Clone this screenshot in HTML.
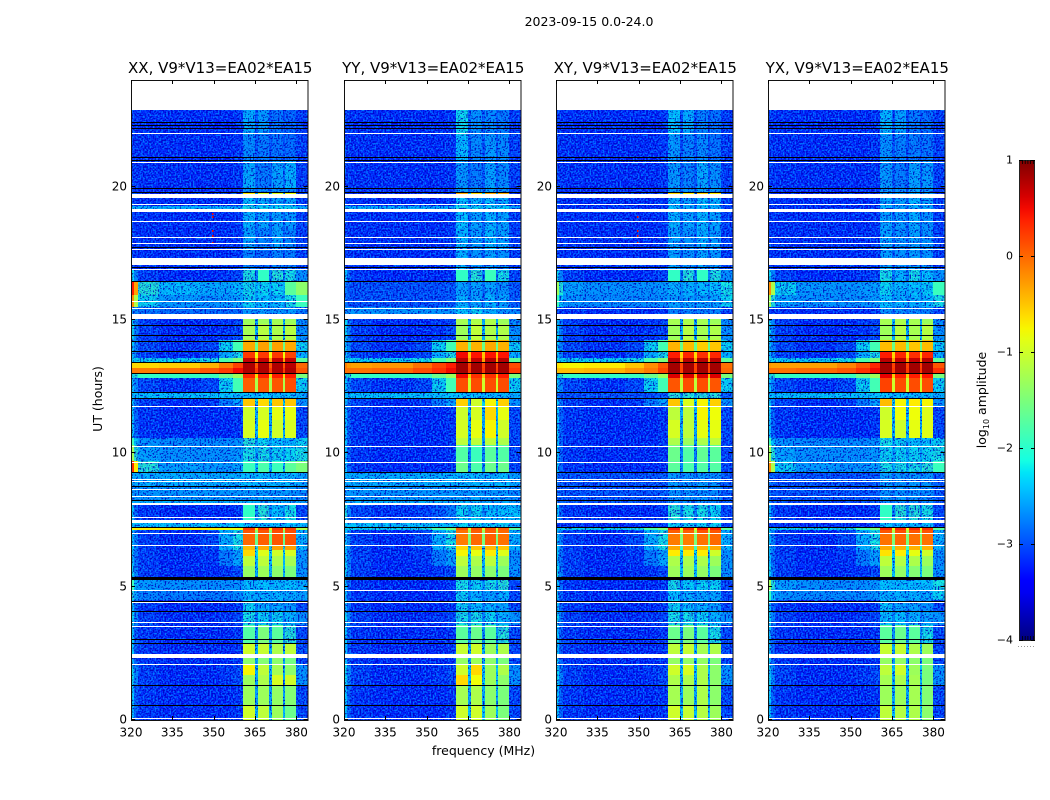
<!DOCTYPE html>
<html>
<head>
<meta charset="utf-8">
<title>2023-09-15 0.0-24.0</title>
<style>
html,body{margin:0;padding:0;background:#fff;}
svg{display:block;}
text{font-family:"DejaVu Sans","Liberation Sans",sans-serif;fill:#000;}
</style>
</head>
<body>
<svg id="figure" xmlns="http://www.w3.org/2000/svg" width="1050" height="800" viewBox="0 0 1050 800">
  <defs>
    <filter id="speckle-light" filterUnits="userSpaceOnUse" x="0" y="0" width="1050" height="800" color-interpolation-filters="sRGB">
      <feTurbulence type="fractalNoise" baseFrequency="0.6" numOctaves="1" seed="4" result="n"/>
      <feColorMatrix in="n" type="matrix" values="0 0 0 0 0  0 0 0 0 0.55  0 0 0 0 1  6 0 0 0 -3" result="c"/>
      <feComposite in="c" in2="SourceAlpha" operator="in"/>
    </filter>
    <filter id="speckle-dark" filterUnits="userSpaceOnUse" x="0" y="0" width="1050" height="800" color-interpolation-filters="sRGB">
      <feTurbulence type="fractalNoise" baseFrequency="0.6" numOctaves="1" seed="4" result="n"/>
      <feColorMatrix in="n" type="matrix" values="0 0 0 0 0  0 0 0 0 0  0 0 0 0 0.75  -6 0 0 0 3" result="c"/>
      <feComposite in="c" in2="SourceAlpha" operator="in"/>
    </filter>
    <linearGradient id="colorbar-gradient" x1="0" y1="1" x2="0" y2="0"></linearGradient>
  </defs>
  <text x="589" y="26" font-size="12.5" text-anchor="middle">2023-09-15 0.0-24.0</text>
  <text x="483.5" y="755" font-size="12.5" text-anchor="middle">frequency (MHz)</text>
  <text transform="translate(102 399) rotate(-90)" font-size="12.5" text-anchor="middle">UT (hours)</text>
  <text transform="translate(986 400) rotate(-90)" font-size="12.5" text-anchor="middle">log<tspan font-size="8" dy="3">10</tspan><tspan dy="-3"> amplitude</tspan></text>
</svg>
<script>
// Frequency channel edges (MHz) and time band edges (UT hours)
const freqEdges = [320,321,322.5,330,345,352,357,360.5,364.8,365.9,370.2,371,375,375.7,380,384];
const bandEdges = [0,.5625,1.3125,1.6875,2.1,2.325,2.8875,3.5625,4.0875,4.5,4.875,5.25,5.775,6.15,6.375,6.5625,6.975,7.125,7.2375,7.3875,8.0625,8.25,8.775,9.3,9.7125,10.3125,10.575,11.25,11.775,12.075,12.3,12.825,13.0125,13.2,13.425,13.575,13.8375,14.25,14.85,15.225,15.4875,15.9375,16.4625,16.9125,17.625,18.45,19.05,19.1625,19.275,19.575,19.725,19.8,19.95,21,21.9375,22.875];

// Out-of-block log10 amplitude shapes: seven channels below 360.5 MHz, then the channel above 380 MHz
const qEdge = [-2.3,-2.9,-3.15,-3.22,-3.22,-3.22,-3.15,-3.05];
const qPlain = [-3.1,-3.15,-3.18,-3.2,-3.2,-3.2,-3.15,-3.1];
const qHint = [-2.2,-2.7,-3.1,-3.22,-3.22,-3.15,-3.05,-2.6];
const rampWeak = [-2.3,-2.8,-3.1,-3.22,-3.15,-2.75,-2.5,-2.6];
const rampMid = [-2.3,-2.7,-3.1,-3.22,-3.05,-2.4,-2.1,-2.4];
const rampStrong = [-2.3,-2.7,-3.05,-3.18,-3.05,-2.2,-1.85,-2.2];
const lineBelow = [-2.1,-2.0,-1.95,-1.95,-1.9,-1.6,-1.3,-1.5];
const lineAbove = [-2.2,-2.2,-2.2,-2.2,-2.1,-1.8,-1.5,-1.7];
const cyanStrip = [-2.3,-2.3,-2.3,-2.3,-2.3,-2.3,-2.3,-2.4];
const cyanSoft = [-2.4,-2.42,-2.42,-2.42,-2.42,-2.42,-2.42,-2.5];
const cyanDeep = [-2.55,-2.58,-2.58,-2.58,-2.58,-2.58,-2.58,-2.65];
const blueBand = [-2.8,-2.95,-3.0,-3.0,-3.0,-3.0,-2.95,-2.95];
const blueDark = [-2.6,-2.7,-2.8,-2.85,-2.85,-2.85,-2.85,-2.75];
const liftLow = [-1.9,-2.3,-2.6,-2.65,-2.65,-2.65,-2.6,-2.2];
const liftMid = [-1.3,-2.0,-2.5,-2.6,-2.6,-2.6,-2.55,-2.1];
const liftHi = [-0.2,-1.2,-2.2,-2.55,-2.6,-2.55,-2.5,-1.9];
const liftHot = [0.3,-0.7,-2.0,-2.5,-2.55,-2.55,-2.45,-1.5];
const liftHot2 = [0.4,-0.3,-2.0,-2.35,-2.45,-2.45,-2.35,-1.4];
const activeA = [-2.0,-2.5,-2.7,-2.75,-2.75,-2.75,-2.65,-2.5];
const activeB = [-1.9,-2.3,-2.55,-2.6,-2.6,-2.6,-2.55,-2.4];
const hotRow = [-0.8,-0.7,-0.7,-0.7,-0.7,-0.8,-0.8,-1.2];
const warmRight = [-2.0,-2.7,-3.05,-3.15,-3.1,-2.95,-2.75,-2.3];
const coreXXlow = [-0.1,-0.1,-0.1,-0.05,0.1,0.25,0.5,0.1];
const coreXXtop = [-0.6,-0.6,-0.6,-0.55,-0.4,-0.1,0.2,0.0];
const coreYYlow = [-0.05,-0.05,-0.05,0,0.15,0.3,0.5,0.25];
const coreYYtop = [-0.1,-0.25,-0.3,-0.25,-0.05,0.2,0.4,0.15];
const coreXYlow = [-0.45,-0.45,-0.45,-0.4,-0.25,-0.1,0.2,0.0];
const coreXYtop = [-0.65,-0.7,-0.75,-0.7,-0.5,-0.2,0.1,-0.05];
const coreYXlow = [-0.05,-0.05,-0.05,0,0.1,0.3,0.5,0.3];
const coreYXtop = [-0.25,-0.3,-0.3,-0.3,-0.15,0.1,0.35,0.1];

// One row per time band: [out-of-block shape, block A, block B, block C, block D, between-block gaps]
const rowsXX = [
[qEdge,-1.0,-1.1,-1.3,-1.6,-2.4],[qEdge,-1.3,-1.3,-1.35,-1.45,-2.5],[qHint,-1.3,-1.2,-.95,-1.0,-2.5],[qHint,-.75,-1.1,-1.25,-1.4,-2.4],[qEdge,-1.4,-1.45,-1.4,-1.55,-2.5],
[qEdge,-1.0,-1.05,-1.2,-1.1,-2.4],[qEdge,-1.75,-1.5,-1.7,-2.0,-2.6],[qHint,-2.1,-2.2,-2.2,-2.4,-2.7],[qEdge,-2.2,-2.4,-2.45,-2.55,-2.7],[activeA,-2.35,-2.4,-2.4,-2.45,-2.5],
[activeB,-2.3,-2.3,-2.35,-2.3,-2.4],[qHint,-1.35,-1.3,-1.4,-1.5,-2.4],[rampWeak,-1.1,-1.1,-1.2,-1.25,-2.3],[rampWeak,-.6,-.9,-1.0,-.95,-2.2],[rampMid,-.45,-.35,-.3,-.3,-2.0],
[rampMid,0,.05,.1,.1,-1.6],[rampMid,.1,.1,.15,.15,-1.4],[hotRow,.25,.25,.25,.2,-.7],[cyanStrip,-2.3,-2.3,-2.3,-2.3,-2.4],[qEdge,-1.95,-2.0,-2.3,-2.1,-2.6],
[cyanSoft,-2.4,-2.4,-2.4,-2.45,-2.5],[cyanDeep,-2.55,-2.5,-2.55,-2.55,-2.6],[cyanSoft,-2.35,-2.35,-2.4,-2.35,-2.4],[liftHot,-1.9,-1.8,-1.9,-1.7,-2.3],[liftMid,-2.1,-2.1,-2.2,-2.2,-2.5],
[liftLow,-2.0,-2.2,-2.3,-2.4,-2.5],[qEdge,-.95,-.85,-1.0,-.95,-2.4],[qEdge,-1.0,-.95,-.85,-.85,-2.4],[rampWeak,-.5,-.6,-.5,-.5,-2.2],[cyanStrip,-2.3,-2.3,-2.3,-2.3,-2.4],
[rampStrong,.05,.1,.1,.15,-1.2],[lineBelow,.35,.4,.4,.4,-.6],[coreXXlow,.8,.8,.8,.8,.25],[coreXXtop,.8,.8,.8,.75,.1],[lineAbove,.7,.7,.7,.7,-.3],
[rampMid,.25,.25,.25,.2,-.8],[rampStrong,-.35,-.3,-.3,-.35,-1.6],[qHint,-1.25,-1.15,-1.2,-1.15,-2.4],[qHint,-1.3,-1.3,-1.25,-1.3,-2.4],[blueDark,-2.55,-2.55,-2.55,-2.55,-2.7],
[liftHi,-2.2,-2.3,-2.3,-2.1,-2.5],[liftHot2,-2.15,-2.2,-2.2,-1.7,-2.4],[qHint,-2.05,-1.95,-2.0,-2.1,-2.7],[qPlain,-2.7,-2.85,-2.7,-2.75,-3.0],[qPlain,-2.5,-2.7,-2.5,-2.7,-2.9],
[qPlain,-2.4,-2.5,-2.5,-2.55,-2.9],[qPlain,-2.4,-2.5,-2.5,-2.55,-2.9],[cyanSoft,-2.1,-2.2,-2.2,-2.2,-2.4],[qPlain,-2.3,-2.4,-2.45,-2.5,-2.8],[qPlain,-2.6,-2.6,-2.6,-2.7,-2.9],
[qPlain,-.7,-.9,-.9,-.8,-2.5],[qPlain,-2.6,-2.7,-2.6,-2.7,-2.9],[qPlain,-2.45,-2.75,-2.5,-2.4,-2.85],[qPlain,-2.65,-2.75,-2.8,-2.85,-3.0],[qPlain,-2.45,-2.55,-2.8,-2.9,-3.0]
];
const rowsYY = [
[qEdge,-1.0,-1.0,-1.3,-1.5,-2.3],[qEdge,-1.25,-1.2,-1.4,-1.5,-2.4],[qHint,-.6,-.8,-1.3,-1.4,-2.3],[qHint,-1.0,-.6,-1.3,-1.2,-2.3],[qEdge,-1.35,-1.3,-1.4,-1.5,-2.5],
[qEdge,-1.05,-1.0,-1.3,-1.2,-2.4],[qEdge,-1.7,-1.6,-1.7,-2.0,-2.6],[qHint,-2.1,-2.1,-2.2,-2.4,-2.7],[qEdge,-2.2,-2.3,-2.4,-2.5,-2.7],[qEdge,-2.2,-2.4,-2.5,-2.4,-2.7],
[qEdge,-2.1,-2.2,-2.1,-2.0,-2.6],[qHint,-1.3,-1.35,-1.4,-1.5,-2.3],[rampWeak,-1.1,-1.2,-1.1,-1.3,-2.3],[rampWeak,-.75,-.85,-.7,-.9,-2.2],[rampMid,-.6,-.5,-.45,-.5,-2.0],
[rampMid,-.1,0,.05,-.05,-1.5],[rampMid,-.05,.05,.05,0,-1.3],[lineAbove,.1,.1,.1,.05,-.9],[cyanStrip,-2.2,-2.2,-2.2,-2.2,-2.4],[warmRight,-2.2,-2.2,-2.3,-2.3,-2.6],
[cyanSoft,-2.4,-2.4,-2.4,-2.45,-2.5],[cyanDeep,-2.55,-2.5,-2.55,-2.55,-2.6],[cyanSoft,-2.35,-2.35,-2.4,-2.35,-2.4],[qEdge,-1.6,-1.8,-1.6,-1.6,-2.7],[qEdge,-1.75,-1.9,-1.7,-1.75,-2.7],
[qEdge,-1.1,-1.1,-1.1,-1.2,-2.5],[qEdge,-.95,-.85,-.75,-1.0,-2.4],[qEdge,-1.0,-.95,-.6,-.85,-2.4],[rampWeak,-.55,-1.0,-.75,-.55,-2.2],[cyanStrip,-2.3,-2.3,-2.3,-2.3,-2.4],
[rampStrong,.15,.15,.15,.15,-1.0],[lineBelow,.5,.3,.3,.4,-.5],[coreYYlow,.85,.85,.85,.85,.25],[coreYYtop,.85,.85,.85,.85,.2],[lineAbove,.75,.7,.75,.75,-.3],
[rampMid,.5,.45,.45,.45,-.5],[rampStrong,-.4,-.4,-.35,-.4,-1.6],[qHint,-1.3,-1.1,-1.2,-1.2,-2.4],[qHint,-1.25,-1.2,-1.2,-1.3,-2.4],[cyanDeep,-2.3,-2.2,-2.4,-2.6,-2.6],
[blueBand,-2.4,-2.5,-2.4,-2.5,-2.8],[blueBand,-2.5,-2.5,-2.5,-2.6,-2.8],[qEdge,-1.95,-2.0,-1.9,-2.1,-2.7],[qPlain,-2.4,-2.6,-2.5,-2.6,-2.9],[qPlain,-2.4,-2.55,-2.35,-2.5,-2.85],
[qPlain,-2.3,-2.5,-2.4,-2.5,-2.85],[qPlain,-2.3,-2.5,-2.4,-2.5,-2.85],[cyanSoft,-2.1,-2.2,-2.2,-2.25,-2.4],[qPlain,-2.3,-2.4,-2.35,-2.45,-2.85],[qPlain,-2.5,-2.5,-2.5,-2.6,-2.9],
[qPlain,-.35,-.6,-.35,-.35,-2.3],[qPlain,-2.5,-2.6,-2.5,-2.6,-2.9],[qPlain,-2.55,-2.75,-2.5,-2.65,-2.95],[qPlain,-2.35,-2.65,-2.55,-2.65,-2.95],[qPlain,-2.15,-2.6,-2.65,-2.75,-2.95]
];
const rowsXY = [
[qEdge,-1.0,-1.05,-1.15,-1.3,-2.3],[qEdge,-1.25,-1.3,-1.2,-1.4,-2.4],[qHint,-1.2,-1.2,-1.2,-1.4,-2.4],[qHint,-1.0,-.95,-1.2,-1.4,-2.3],[qEdge,-1.35,-1.35,-1.35,-1.5,-2.5],
[qEdge,-1.1,-1.05,-1.25,-1.2,-2.4],[qEdge,-1.6,-1.5,-1.7,-2.1,-2.6],[qHint,-2.1,-2.1,-2.2,-2.4,-2.7],[qEdge,-2.2,-2.3,-2.4,-2.5,-2.7],[qEdge,-2.3,-2.4,-2.5,-2.45,-2.7],
[qEdge,-2.1,-2.25,-2.2,-2.2,-2.6],[qHint,-1.3,-1.3,-1.35,-1.5,-2.3],[rampWeak,-1.2,-1.2,-1.2,-1.3,-2.3],[rampWeak,-.7,-.7,-.7,-1.0,-2.2],[rampMid,-.35,-.35,-.4,-.35,-1.9],
[rampMid,-.1,-.1,-.05,0,-1.5],[rampMid,.05,.05,.1,.1,-1.2],[lineAbove,.4,.3,.4,.35,-.8],[qPlain,-2.2,-2.2,-2.2,-2.2,-2.6],[qEdge,-2.0,-2.1,-2.1,-2.2,-2.7],
[blueBand,-2.6,-2.6,-2.6,-2.65,-2.8],[blueBand,-2.6,-2.6,-2.6,-2.65,-2.8],[blueBand,-2.55,-2.6,-2.55,-2.6,-2.8],[qEdge,-1.7,-1.8,-1.75,-1.75,-2.7],[qEdge,-1.6,-1.75,-1.65,-1.7,-2.7],
[qEdge,-1.2,-1.3,-1.2,-1.1,-2.5],[qEdge,-.95,-1.1,-.85,-.85,-2.4],[qEdge,-1.1,-1.1,-.75,-.8,-2.4],[rampWeak,-.5,-.9,-.75,-.55,-2.2],[blueBand,-2.0,-2.0,-2.0,-2.0,-2.5],
[rampStrong,.1,.15,.15,.1,-1.1],[lineBelow,.6,.6,.6,.6,-.4],[coreXYlow,.85,.85,.85,.85,.2],[coreXYtop,.85,.85,.85,.85,.2],[lineAbove,.75,.75,.75,.75,-.3],
[rampMid,.4,.35,.3,.35,-.6],[rampStrong,-.4,-.45,-.55,-.5,-1.6],[qHint,-1.3,-1.15,-1.25,-1.2,-2.4],[qHint,-1.25,-1.2,-1.25,-1.3,-2.4],[qPlain,-2.7,-2.7,-2.7,-2.7,-2.9],
[liftLow,-2.5,-2.5,-2.5,-2.5,-2.7],[liftMid,-2.4,-2.4,-2.35,-2.3,-2.6],[qHint,-1.95,-2.0,-1.95,-2.05,-2.7],[qPlain,-2.5,-2.6,-2.5,-2.55,-2.9],[qPlain,-2.5,-2.6,-2.45,-2.55,-2.85],
[qPlain,-2.4,-2.5,-2.35,-2.5,-2.85],[qPlain,-2.4,-2.5,-2.35,-2.5,-2.85],[qPlain,-2.3,-2.45,-2.35,-2.45,-2.85],[qPlain,-2.4,-2.5,-2.3,-2.4,-2.85],[qPlain,-2.5,-2.55,-2.5,-2.6,-2.9],
[qPlain,-.6,-.7,-.55,-.7,-2.4],[qPlain,-2.5,-2.6,-2.45,-2.6,-2.9],[qPlain,-2.55,-2.7,-2.45,-2.6,-2.95],[qPlain,-2.55,-2.7,-2.65,-2.8,-3.0],[qPlain,-2.3,-2.45,-2.7,-2.8,-3.0]
];
const rowsYX = [
[qEdge,-1.1,-1.15,-1.2,-1.4,-2.3],[qEdge,-1.3,-1.3,-1.25,-1.45,-2.4],[qHint,-1.25,-1.2,-1.25,-1.5,-2.4],[qHint,-1.1,-1.0,-1.3,-1.5,-2.3],[qEdge,-1.35,-1.35,-1.4,-1.5,-2.5],
[qEdge,-1.05,-1.05,-1.2,-1.3,-2.4],[qEdge,-1.7,-1.6,-1.7,-2.1,-2.6],[qHint,-2.3,-2.3,-2.4,-2.5,-2.7],[qEdge,-2.25,-2.45,-2.5,-2.6,-2.7],[liftLow,-2.4,-2.4,-2.4,-2.45,-2.5],
[liftMid,-2.3,-2.3,-2.3,-2.3,-2.4],[qHint,-1.3,-1.35,-1.45,-1.5,-2.3],[rampWeak,-1.1,-1.15,-1.2,-1.3,-2.3],[rampWeak,-.65,-.7,-.85,-1.0,-2.2],[rampMid,-.35,-.4,-.4,-.4,-1.9],
[rampMid,-.05,0,-.05,-.05,-1.5],[rampMid,.1,.15,.1,.1,-1.2],[lineAbove,.35,.35,.35,.3,-.8],[qPlain,-2.3,-2.3,-2.3,-2.3,-2.6],[qEdge,-1.95,-2.0,-2.0,-2.1,-2.7],
[blueBand,-2.6,-2.6,-2.6,-2.65,-2.8],[blueBand,-2.6,-2.6,-2.6,-2.65,-2.8],[blueBand,-2.5,-2.6,-2.55,-2.6,-2.8],[liftHi,-2.1,-2.1,-2.1,-2.0,-2.4],[liftMid,-2.2,-2.2,-2.2,-2.2,-2.5],
[liftLow,-2.1,-2.2,-2.3,-2.3,-2.5],[qEdge,-.95,-1.0,-.85,-.9,-2.4],[qEdge,-1.0,-.8,-.8,-.9,-2.4],[rampWeak,-.45,-.75,-.7,-.75,-2.2],[cyanStrip,-2.3,-2.3,-2.3,-2.3,-2.4],
[rampStrong,.2,.15,.15,.15,-1.0],[lineBelow,.55,.4,.4,.45,-.5],[coreYXlow,.85,.85,.85,.85,.25],[coreYXtop,.85,.85,.85,.85,.2],[lineAbove,.75,.7,.7,.75,-.3],
[rampMid,.4,.35,.3,.35,-.6],[rampStrong,-.45,-.45,-.5,-.45,-1.6],[qHint,-1.3,-1.15,-1.25,-1.15,-2.4],[qHint,-1.25,-1.2,-1.25,-1.3,-2.4],[qPlain,-2.6,-2.6,-2.65,-2.7,-2.9],
[liftMid,-2.3,-2.4,-2.4,-2.35,-2.6],[liftHi,-2.2,-2.35,-2.3,-2.25,-2.5],[qHint,-2.1,-2.4,-2.1,-2.3,-2.8],[qPlain,-2.5,-2.6,-2.5,-2.6,-2.9],[qPlain,-2.5,-2.6,-2.5,-2.6,-2.9],
[qPlain,-2.5,-2.55,-2.45,-2.6,-2.9],[qPlain,-2.5,-2.55,-2.45,-2.6,-2.9],[qPlain,-2.4,-2.5,-2.4,-2.5,-2.85],[qPlain,-2.45,-2.5,-2.4,-2.5,-2.85],[qPlain,-2.55,-2.6,-2.5,-2.6,-2.9],
[qPlain,-2.5,-2.55,-2.5,-2.6,-2.9],[qPlain,-2.55,-2.6,-2.5,-2.6,-2.9],[qPlain,-2.55,-2.75,-2.5,-2.55,-2.95],[qPlain,-2.6,-2.7,-2.75,-2.8,-3.0],[qPlain,-2.35,-2.5,-2.75,-2.85,-3.0]
];

// Flagged integrations (UT hours)
const whiteRowHours = [.075,2.1,3.54,3.675,4.41,4.875,6.56,7.01,7.61,8.4,8.66,8.96,9.04,9.675,10.275,11.775,15.45,15.71,16.91,17.66,17.89,18.11,18.71,19.35,20.925,22.01];
const whiteGapStarts = [2.325,7.39,8.06,15.04,17.06,19.05,19.575];
const whiteGapEnds = [2.475,7.5,8.14,15.225,17.325,19.16,19.725];
const blackRowHours = [.5625,1.31,2.89,3.04,4.09,4.46,7.24,8.25,8.775,9.3,12.075,12.3,13.01,13.43,13.84,14.23,14.42,14.83,16.46,16.99,17.74,19.8,19.95,21.0,21.11,22.2,22.31,22.43];
const blackGapStarts = [5.25];
const blackGapEnds = [5.36];

// Narrow interference spikes
const spikeFreq = [349.2];
const spikeHoursXX = [19.01,18.9,18.375,18.2,17.925];
const spikeHoursXY = [19.15,18.9,18.375,18.2,17.925];
const spikeLevel = [0.5];

// Axis tick values and panel titles
const xTicks = [320,335,350,365,380];
const yTicks = [0,5,10,15,20];
const colorTicks = [1,0,-1,-2,-3,-4];
const panelTitles = ['XX, V9*V13=EA02*EA15','YY, V9*V13=EA02*EA15','XY, V9*V13=EA02*EA15','YX, V9*V13=EA02*EA15'];
const panelNames = ['xx','yy','xy','yx'];
const panelRows = [rowsXX,rowsYY,rowsXY,rowsYX];
const panelSpikes = [spikeHoursXX,[],spikeHoursXY,[]];

const NS = 'http://www.w3.org/2000/svg';
const fig = document.getElementById('figure');
const plotLefts = [131,344,556,768];
const plotW = 176.5, plotTop = 80, plotBottom = 720;
const fMin = 320, fMax = 384, hMin = 0, hMax = 24, cMin = -4, cMax = 1;

function make(tag, attrs, parent) {
  const el = document.createElementNS(NS, tag);
  for (const k in attrs) el.setAttribute(k, attrs[k]);
  parent.appendChild(el);
  return el;
}
function xScale(left, f) { return left + (f - fMin) / (fMax - fMin) * plotW; }
function yScale(h) { return plotBottom - (h - hMin) / (hMax - hMin) * (plotBottom - plotTop); }
function lerp(points, t) {
  for (let i = 1; i < points.length; i++) {
    if (t <= points[i][0]) {
      const a = points[i-1], b = points[i];
      return a[1] + (b[1]-a[1]) * (t-a[0]) / (b[0]-a[0]);
    }
  }
  return points[points.length-1][1];
}
const jetR = [[0,0],[.35,0],[.66,1],[.89,1],[1,.5]];
const jetG = [[0,0],[.125,0],[.375,1],[.64,1],[.91,0],[1,0]];
const jetB = [[0,.5],[.11,1],[.34,1],[.65,0],[1,0]];
function jet(v) {
  const t = Math.max(0, Math.min(1, (v - cMin) / (cMax - cMin)));
  return 'rgb(' + Math.round(255*lerp(jetR,t)) + ',' + Math.round(255*lerp(jetG,t)) + ',' + Math.round(255*lerp(jetB,t)) + ')';
}
function spectrum(row) {
  const s = row[0];
  return [s[0],s[1],s[2],s[3],s[4],s[5],s[6],row[1],row[5],row[2],row[5],row[3],row[5],row[4],s[7]];
}

panelNames.forEach(function (pname, p) {
  const left = plotLefts[p];
  const panel = make('g', {}, fig);
  
  

  const cells = make('g', {'shape-rendering':'crispEdges'}, panel);
  
  

  let lowCells = '';
  panelRows[p].forEach(function (row, b) {
    const vals = spectrum(row);
    const y0 = Math.round(yScale(bandEdges[b+1]));
    const y1 = Math.round(yScale(bandEdges[b]));
    vals.forEach(function (v, c) {
      const x0 = Math.round(xScale(left, freqEdges[c]));
      const x1 = Math.round(xScale(left, freqEdges[c+1]));
      const cell = make('rect', {x:x0, y:y0, width:x1-x0, height:y1-y0, fill:jet(v)}, cells);
      
      
      if (v < -1.95) lowCells += 'M' + x0 + ' ' + y0 + 'h' + (x1-x0) + 'v' + (y1-y0) + 'h' + (x0-x1) + 'z';
    });
  });

  const lightNoise = make('path', {d:lowCells, fill:'#000', filter:'url(#speckle-light)', opacity:'0.8'}, panel);
  
  
  const darkNoise = make('path', {d:lowCells, fill:'#000', filter:'url(#speckle-dark)', opacity:'0.85'}, panel);
  
  

  panelSpikes[p].forEach(function (h) {
    const spike = make('rect', {x:Math.round(xScale(left, spikeFreq[0])), y:Math.round(yScale(h)), width:1.5, height:2, fill:jet(spikeLevel[0])}, panel);
    
    
  });

  const flags = make('g', {'shape-rendering':'crispEdges'}, panel);
  
  
  const xa = left + .5, wa = plotW;
  blackRowHours.forEach(function (h) {
    const r = make('rect', {x:xa, y:Math.round(yScale(h)), width:wa, height:1, fill:'#000'}, flags);
    
    
  });
  blackGapStarts.forEach(function (h, i) {
    const y = Math.round(yScale(blackGapEnds[i]));
    const r = make('rect', {x:xa, y:y, width:wa, height:Math.round(yScale(h))-y, fill:'#000'}, flags);
    
    
  });
  whiteRowHours.forEach(function (h) {
    const r = make('rect', {x:xa, y:Math.round(yScale(h)), width:wa, height:1, fill:'#fff'}, flags);
    
    
  });
  whiteGapStarts.forEach(function (h, i) {
    const y = Math.round(yScale(whiteGapEnds[i]));
    const r = make('rect', {x:xa, y:y, width:wa, height:Math.round(yScale(h))-y, fill:'#fff'}, flags);
    
    
  });

  const frame = make('rect', {x:left+.5, y:plotTop+.5, width:plotW, height:plotBottom-plotTop, fill:'none', stroke:'#111', 'stroke-width':1, 'shape-rendering':'crispEdges'}, panel);
  
  

  xTicks.forEach(function (f) {
    const x = Math.round(xScale(left, f)) + .5;
    const t1 = make('line', {x1:x, x2:x, y1:plotBottom, y2:plotBottom-4, stroke:'#000'}, panel);
    
    
    const t2 = make('line', {x1:x, x2:x, y1:plotTop, y2:plotTop+4, stroke:'#000'}, panel);
    
    
    const lab = make('text', {x:xScale(left, f), y:736.5, 'font-size':12, 'text-anchor':'middle'}, panel);
    
    
    lab.textContent = String(f);
  });
  yTicks.forEach(function (h) {
    const y = Math.round(yScale(h)) - .5;
    const t1 = make('line', {x1:left, x2:left+4, y1:y, y2:y, stroke:'#000'}, panel);
    
    
    const t2 = make('line', {x1:left+plotW, x2:left+plotW-4, y1:y, y2:y, stroke:'#000'}, panel);
    
    
    const lab = make('text', {x:left-4, y:y+4, 'font-size':12, 'text-anchor':'end'}, panel);
    
    
    lab.textContent = String(h);
  });
  const title = make('text', {x:left+plotW/2+1, y:73, 'font-size':15, 'text-anchor':'middle'}, panel);
  
  
  title.textContent = panelTitles[p];
});

// Colorbar
const grad = document.getElementById('colorbar-gradient');
for (let i = 0; i <= 40; i++) {
  make('stop', {offset:(i/40), 'stop-color':jet(cMin + (cMax-cMin)*i/40)}, grad);
}
const cbX = 1019, cbW = 16, cbTop = 160, cbBottom = 640;
function cScale(v) { return cbBottom - (v - cMin) / (cMax - cMin) * (cbBottom - cbTop); }
const cb = make('g', {}, fig);


const cbRect = make('rect', {x:cbX+.5, y:cbTop+.5, width:cbW-1, height:cbBottom-cbTop, fill:'url(#colorbar-gradient)', stroke:'#222', 'stroke-width':1, 'shape-rendering':'crispEdges'}, cb);


colorTicks.forEach(function (v) {
  const y = Math.round(cScale(v)) + .5;
  const a = make('line', {x1:cbX, x2:cbX+4, y1:y, y2:y, stroke:'#000'}, cb);
  
  
  const b = make('line', {x1:cbX+cbW, x2:cbX+cbW-4, y1:y, y2:y, stroke:'#000'}, cb);
  
  
  const lab = make('text', {x:1013, y:y+3, 'font-size':11, 'text-anchor':'end'}, cb);
  
  
  lab.textContent = v < 0 ? '\u2212' + Math.abs(v) : String(v);
});
[0,1,2,3,4].forEach(function (i) {
  const x = cbX + 3.5 + i * 2.7;
  const a = make('line', {x1:x, x2:x, y1:cbTop, y2:cbTop+4, stroke:'#000', 'stroke-width':.8}, cb);
  
  
  const b = make('line', {x1:x, x2:x, y1:cbBottom, y2:cbBottom-4, stroke:'#000', 'stroke-width':.8}, cb);
  
  
});
const dots = make('line', {x1:1018, x2:1035, y1:646.5, y2:646.5, stroke:'#999', 'stroke-dasharray':'1 2'}, cb);


</script>
</body>
</html>
